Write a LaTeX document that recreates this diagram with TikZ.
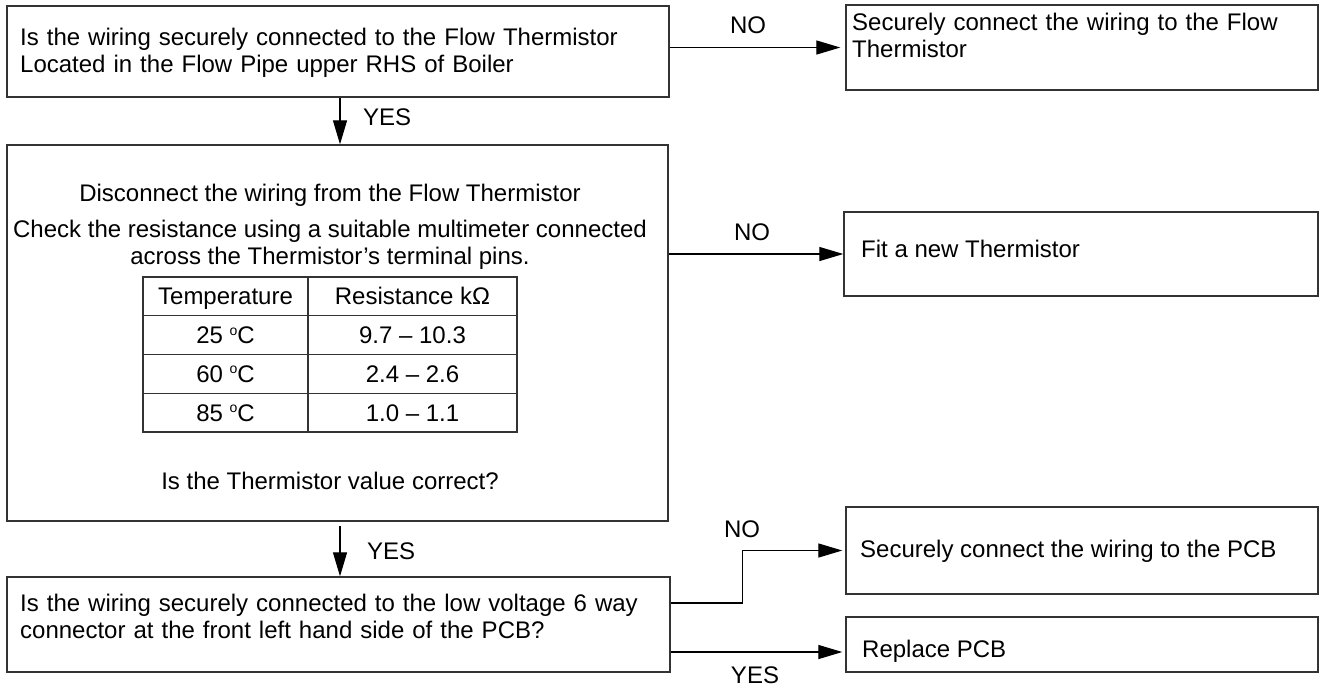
\documentclass[tikz,border=0pt]{standalone}
\usepackage{fontspec}
\setmainfont{Liberation Sans}
\usetikzlibrary{arrows.meta}
\newcommand{\degsym}{\raisebox{8.5pt}{\fontsize{14}{14}\selectfont o}}
\begin{document}
\begin{tikzpicture}[x=1pt,y=-1pt,
  every node/.style={font=\fontsize{24}{27.5}\selectfont, text=black},
  box/.style={draw=black!80, line width=1.4pt, inner sep=0pt},
  txt/.style={inner sep=0pt},
  cell/.style={draw=black!80, line width=1.3pt, inner sep=0pt, text height=17pt, text depth=0pt},
  arr/.style={draw=black, line width=1.3pt, -{Triangle[length=24pt,width=14pt]}},
  lbl/.style={inner sep=0pt, anchor=base}]
\useasboundingbox (0,0) rectangle (1322,697);

% boxes
\node[box, minimum width=662pt, minimum height=91pt] (b1) at (338,51.5) {};
\node[box, minimum width=472pt, minimum height=85pt] (b2) at (1082,47.5) {};
\node[box, minimum width=661pt, minimum height=376pt] (b3) at (337.5,333) {};
\node[box, minimum width=474pt, minimum height=84pt] (b5) at (1081,254) {};
\node[box, minimum width=663pt, minimum height=95pt] (b4) at (338.5,624.5) {};
\node[box, minimum width=472pt, minimum height=87pt] (b6) at (1082,550.5) {};
\node[box, minimum width=472pt, minimum height=55pt] (b7) at (1082,644.5) {};

% texts
\node[txt, anchor=base west, text width=640pt, align=left] (t1) at (20,45)
  {Is the wiring securely connected to the Flow Thermistor\\Located in the Flow Pipe upper RHS of Boiler};
\node[txt, anchor=base west, text width=460pt, align=left] (t2) at (852,30)
  {Securely connect the wiring to the Flow\\Thermistor};
\node[txt, anchor=base] (t3a) at (330,201) {Disconnect the wiring from the Flow Thermistor};
\node[txt, anchor=base] (t3b) at (330,237) {Check the resistance using a suitable multimeter connected};
\node[txt, anchor=base] (t3c) at (330,264) {across the Thermistor’s terminal pins.};
\node[txt, anchor=base] (t3d) at (330,489) {Is the Thermistor value correct?};
\node[txt, anchor=base west] (t5) at (861,257) {Fit a new Thermistor};
\node[txt, anchor=base west, text width=640pt, align=left] (t4) at (20,611)
  {Is the wiring securely connected to the low voltage 6 way\\connector at the front left hand side of the PCB?};
\node[txt, anchor=base west] (t6) at (860,557) {Securely connect the wiring to the PCB};
\node[txt, anchor=base west] (t7) at (862,657) {Replace PCB};

% table
\node[cell, minimum width=165pt, minimum height=38.75pt] (c11) at (225.5,296.4) {Temperature};
\node[cell, minimum width=209pt, minimum height=38.75pt] (c12) at (412.5,296.4) {Resistance kΩ};
\node[cell, minimum width=165pt, minimum height=38.75pt] (c21) at (225.5,335.1) {25 \degsym C};
\node[cell, minimum width=209pt, minimum height=38.75pt] (c22) at (412.5,335.1) {9.7 – 10.3};
\node[cell, minimum width=165pt, minimum height=38.75pt] (c31) at (225.5,373.9) {60 \degsym C};
\node[cell, minimum width=209pt, minimum height=38.75pt] (c32) at (412.5,373.9) {2.4 – 2.6};
\node[cell, minimum width=165pt, minimum height=38.75pt] (c41) at (225.5,412.6) {85 \degsym C};
\node[cell, minimum width=209pt, minimum height=38.75pt] (c42) at (412.5,412.6) {1.0 – 1.1};

% connectors
\coordinate (xa) at (340,0);
\coordinate (yP) at (0,652);
\draw[arr, shorten >=5pt] (b1.east |- b2.west) -- (b2.west);
\draw[arr] (b1.south -| xa) -- (b3.north -| xa);
\draw[arr] (b3.east |- b5.west) -- (b5.west);
\draw[arr, shorten <=4pt] (b3.south -| xa) -- (b4.north -| xa);
\draw[arr, shorten >=3pt] ([yshift=21.5pt]b4.east) -- ++(72,0) |- (b6.west);
\draw[arr, shorten >=3pt] (b4.east |- yP) -- (b7.west |- yP);

% labels
\node[lbl] (n1) at (748,33) {NO};
\node[lbl, anchor=base west] (y1) at (363,125) {YES};
\node[lbl] (n2) at (752,240) {NO};
\node[lbl, anchor=base west] (y2) at (367,559) {YES};
\node[lbl] (n3) at (742,537) {NO};
\node[lbl] (y4) at (755,683) {YES};
\end{tikzpicture}
\end{document}
